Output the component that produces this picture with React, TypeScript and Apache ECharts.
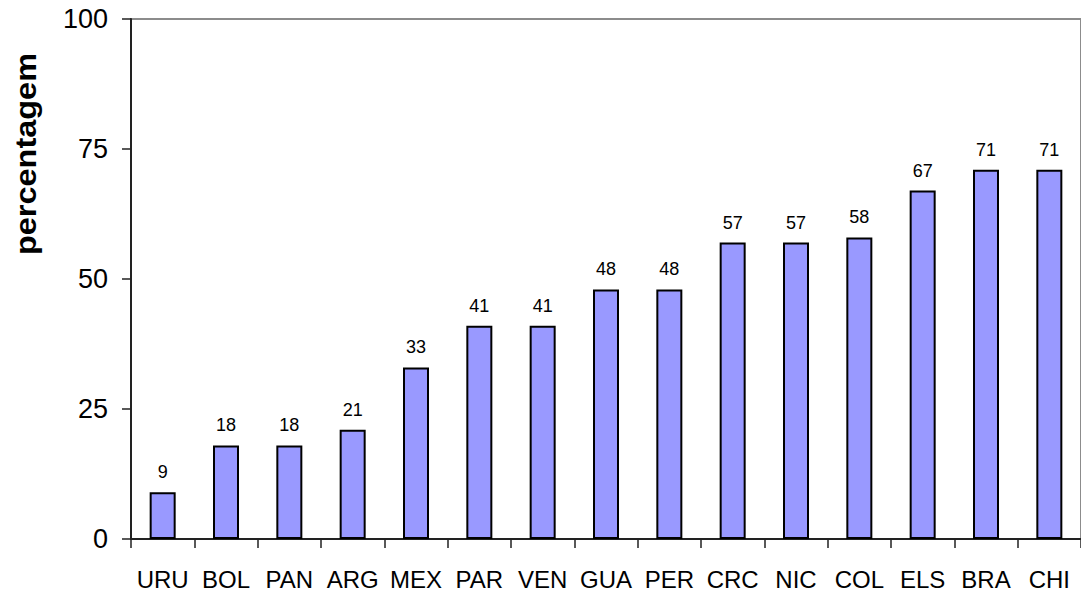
import React, { useEffect, useRef } from "react";
import * as echarts from "echarts";

const countries = ["URU", "BOL", "PAN", "ARG", "MEX", "PAR", "VEN", "GUA", "PER", "CRC", "NIC", "COL", "ELS", "BRA", "CHI"];
const percentages = [9, 18, 18, 21, 33, 41, 41, 48, 48, 57, 57, 58, 67, 71, 71];
const yTicks = { min: 0, max: 100, interval: 25 };
const axisTitle = "percentagem";

const FONT = "'Liberation Sans', Arial, sans-serif";

export default function App() {
  const ref = useRef<HTMLDivElement>(null);

  useEffect(() => {
    if (!ref.current) return;
    const chart = echarts.init(ref.current, null, { renderer: "svg" });
    chart.setOption({
      animation: false,
      backgroundColor: "#ffffff",
      grid: {
        left: 131,
        top: 19,
        bottom: 62,
        right: -10,
        show: true,
        borderColor: "#8c8c8c",
        borderWidth: 2,
        backgroundColor: "transparent",
      },
      xAxis: {
        type: "category",
        data: countries,
        axisLine: { show: true, lineStyle: { color: "#222", width: 2 } },
        axisTick: { show: true, length: 9, lineStyle: { color: "#222", width: 1.5 } },
        axisLabel: {
          interval: 0,
          margin: 28,
          color: "#000",
          fontSize: 24,
          fontFamily: FONT,
        },
        splitLine: { show: false },
      },
      yAxis: {
        type: "value",
        min: yTicks.min,
        max: yTicks.max,
        interval: yTicks.interval,
        axisLine: { show: true, lineStyle: { color: "#222", width: 2 } },
        axisTick: { show: true, length: 9, lineStyle: { color: "#222", width: 1.5 } },
        axisLabel: {
          margin: 23,
          color: "#000",
          fontSize: 27,
          fontFamily: FONT,
        },
        splitLine: { show: false },
      },
      graphic: [
        {
          type: "text",
          x: 26,
          y: 154,
          rotation: Math.PI / 2,
          scaleX: 1.12,
          style: {
            text: axisTitle,
            fontSize: 29,
            fontWeight: "bold",
            fontFamily: FONT,
            fill: "#000",
            align: "center",
            verticalAlign: "middle",
          },
        },
      ],
      series: [
        {
          type: "bar",
          data: percentages,
          barWidth: 26,
          itemStyle: { color: "#9999ff", borderColor: "#000", borderWidth: 2 },
          label: {
            show: true,
            position: "top",
            distance: 11,
            color: "#000",
            fontSize: 18,
            fontFamily: FONT,
          },
        },
      ],
    });
    return () => chart.dispose();
  }, []);

  return (
    <div
      ref={ref}
      style={{ position: "fixed", left: 0, top: 0, width: 1081, height: 601, overflow: "hidden", background: "#fff" }}
    />
  );
}
